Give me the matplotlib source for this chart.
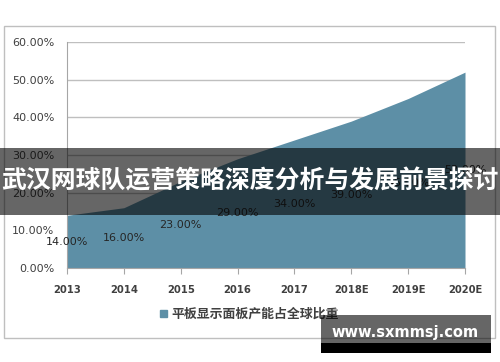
import matplotlib
matplotlib.use("Agg")
import matplotlib.pyplot as plt
from matplotlib.patches import Rectangle

categories = ["2013", "2014", "2015", "2016", "2017", "2018E", "2019E", "2020E"]
values = [0.14, 0.16, 0.23, 0.29, 0.34, 0.39, 0.45, 0.52]
value_labels = ["14.00%", "16.00%", "23.00%", "29.00%", "34.00%", "39.00%", "45.00%", "52.00%"]
y_ticks = [0.0, 0.1, 0.2, 0.3, 0.4, 0.5, 0.6]
y_tick_labels = ["0.00%", "10.00%", "20.00%", "30.00%", "40.00%", "50.00%", "60.00%"]
legend_label = "平板显示面板产能占全球比重"
title_text = "武汉网球队运营策略深度分析与发展前景探讨"
watermark = "www.sxmmsj.com"

W, H = 500, 362
fig = plt.figure(figsize=(W / 100, H / 100), dpi=100)
fig.patch.set_facecolor("white")

def fx(x):
    return x / W

def fy(y):
    return 1 - y / H

# outer chart border
fig.patches.append(Rectangle((fx(4), fy(338)), fx(495) - fx(4), fy(26) - fy(338),
                             transform=fig.transFigure, fill=False,
                             edgecolor="#bfbfbf", linewidth=1.0, zorder=0))

left, right, top, bottom = 67, 465, 42, 268
ax = fig.add_axes([fx(left), fy(bottom), fx(right) - fx(left), fy(top) - fy(bottom)])
ax.set_facecolor("none")

area_color = "#5d8fa6"
x = list(range(len(categories)))
ax.fill_between(x, 0, values, color=area_color, linewidth=0, zorder=2)

ax.set_xlim(0, len(categories) - 1)
ax.set_ylim(0, 0.6)
ax.set_yticks(y_ticks)
ax.set_yticklabels(y_tick_labels, fontsize=8, color="#404040")
ax.set_xticks(x)
ax.set_xticklabels(categories, fontsize=7.2, fontweight="bold", color="#404040")
ax.tick_params(axis="y", length=0, pad=9)
ax.tick_params(axis="x", length=4, direction="out", color="#a6a6a6", pad=8)
ax.grid(axis="y", color="#bfbfbf", linewidth=1.0, zorder=1)
ax.set_axisbelow(True)
for s in ["top", "right"]:
    ax.spines[s].set_visible(False)
ax.spines["left"].set_color("#a6a6a6")
ax.spines["bottom"].set_color("#a6a6a6")
ax.spines["left"].set_zorder(3)

for xi, v, lab in zip(x, values, value_labels):
    ax.text(xi, v / 2, lab, ha="center", va="center", fontsize=8,
            color="#262626", zorder=4, clip_on=False)

# legend
fig.patches.append(Rectangle((fx(160), fy(317)), fx(167) - fx(160), fy(310) - fy(317),
                             transform=fig.transFigure, color=area_color, zorder=3))
fig.text(fx(171), fy(313.5), legend_label, ha="left", va="center", fontsize=9.3,
         color="#404040", fontweight="bold", family=["Noto Sans CJK SC", "DejaVu Sans"])

# dark title banner
fig.patches.append(Rectangle((0, fy(215)), 1, fy(148) - fy(215), transform=fig.transFigure,
                             color="black", alpha=0.6, linewidth=0, zorder=10))
fig.text(0.5, fy(181), title_text, ha="center", va="center", fontsize=17.9,
         fontweight="bold", color="white", zorder=11,
         family=["Noto Sans CJK SC", "DejaVu Sans"])

# watermark
fig.patches.append(Rectangle((fx(321), fy(353)), fx(491) - fx(321), fy(315) - fy(353),
                             transform=fig.transFigure, color="black", alpha=0.6,
                             linewidth=0, zorder=10))
fig.patches.append(Rectangle((fx(321), fy(353)), fx(491) - fx(321), fy(343) - fy(353),
                             transform=fig.transFigure, color="black",
                             linewidth=0, zorder=10))
fig.text(fx(405), fy(333), watermark, ha="center", va="center", fontsize=10.5,
         fontweight="bold", color="white", zorder=11)

fig.savefig("out.png", dpi=100, facecolor="white")
